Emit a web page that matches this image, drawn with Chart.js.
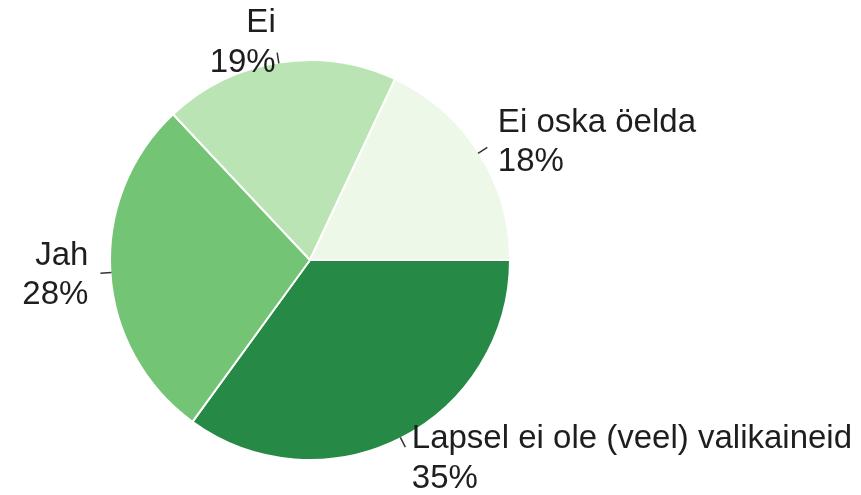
<!DOCTYPE html>
<html>
<head>
<meta charset="utf-8">
<script src="https://cdn.jsdelivr.net/npm/chart.js@4/dist/chart.umd.min.js"></script>
<style>
    html, body { margin: 0; padding: 0; background: #ffffff; }
    #wrap { width: 861px; height: 495px; position: relative; }
</style>
</head>
<body>
<div id="wrap"><canvas id="pieChart"></canvas></div>
<script>
// Survey answers, clockwise from 3 o'clock
const answers = ['Lapsel ei ole (veel) valikaineid', 'Jah', 'Ei', 'Ei oska öelda'];
const shares = [35, 28, 19, 18];
const sliceColors = ['#268945', '#74c476', '#bae4b3', '#edf8e9'];

// Label placement relative to the slice's mid-point on the rim
// (dx, first baseline, second baseline, alignment)
const labelOffsets = [
    { dx: 11, b1: 10, b2: 50, align: 'left' },
    { dx: -22, b1: -8, b2: 31, align: 'right' },
    { dx: -3, b1: -30, b2: 10, align: 'right' },
    { dx: 19, b1: -21, b2: 18, align: 'left' }
];

// Draws outside labels with a short leader tick
const outsideLabels = {
    id: 'outsideLabels',
    afterDatasetsDraw(chart) {
        const ctx = chart.ctx;
        const meta = chart.getDatasetMeta(0);
        ctx.save();
        ctx.font = '33px Arial, "Liberation Sans", sans-serif';
        ctx.fillStyle = '#1e1e1e';
        ctx.strokeStyle = '#333333';
        ctx.lineWidth = 1.5;
        ctx.textBaseline = 'alphabetic';
        meta.data.forEach((arc, i) => {
            const mid = (arc.startAngle + arc.endAngle) / 2;
            const r = arc.outerRadius;
            const ax = arc.x + Math.cos(mid) * r;
            const ay = arc.y + Math.sin(mid) * r;

            ctx.beginPath();
            ctx.moveTo(ax - Math.cos(mid) * 1, ay - Math.sin(mid) * 1);
            ctx.lineTo(ax + Math.cos(mid) * 10, ay + Math.sin(mid) * 10);
            ctx.stroke();

            const off = labelOffsets[i];
            ctx.textAlign = off.align;
            ctx.fillText(answers[i], ax + off.dx, ay + off.b1);
            ctx.fillText(shares[i] + '%', ax + off.dx, ay + off.b2);
        });
        ctx.restore();
    }
};

new Chart(document.getElementById('pieChart').getContext('2d'), {
    type: 'pie',
    data: {
        labels: answers,
        datasets: [{
            data: shares,
            backgroundColor: sliceColors,
            borderColor: '#ffffff',
            borderWidth: 2,
            hoverOffset: 0
        }]
    },
    options: {
        responsive: true,
        maintainAspectRatio: false,
        animation: false,
        rotation: 90,
        layout: {
            padding: { left: 109, right: 350, top: 59, bottom: 34 }
        },
        plugins: {
            legend: { display: false },
            tooltip: { enabled: false }
        }
    },
    plugins: [outsideLabels]
});
</script>
</body>
</html>
